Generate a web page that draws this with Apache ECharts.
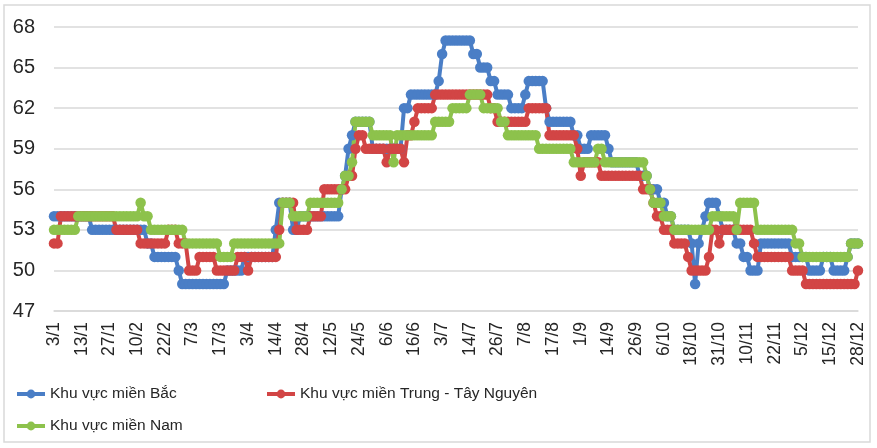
<!DOCTYPE html>
<html>
<head>
<meta charset="utf-8">
<script src="https://cdn.jsdelivr.net/npm/echarts@6/dist/echarts.min.js"></script>
<style>
html, body { margin: 0; padding: 0; background: #fff; }
#chart_div { width: 877px; height: 448px; }
</style>
</head>
<body>
<div id="chart_div"></div>
<script>
// nhãn trục hoành (mỗi nhãn cách nhau 8 điểm)
var tickLabels = ['3/1','13/1','27/1','10/2','22/2','7/3','17/3','3/4','14/4','28/4',
	'12/5','24/5','6/6','16/6','3/7','14/7','26/7','7/8','17/8','1/9',
	'14/9','26/9','6/10','18/10','31/10','10/11','22/11','5/12','15/12','28/12'];
var seriesNames = ['Khu vực miền Bắc', 'Khu vực miền Trung - Tây Nguyên', 'Khu vực miền Nam'];

var bac = [
	54,54,54,54,54,54,54,54,
	54,54,54,53,53,53,53,53,
	53,53,53,53,53,53,53,53,
	53,53,53,52,52,51,51,51,
	51,51,51,51,50,49,49,49,
	49,49,49,49,49,49,49,49,
	49,49,50,50,50,50,50,51,
	51,51,51,51,51,51,51,51,
	53,55,55,55,55,53,53,54,
	54,54,54,54,54,54,54,54,
	54,54,54,56,57,59,60,61,
	61,61,61,61,59,59,59,59,
	59,59,59,59,59,62,62,63,
	63,63,63,63,63,63,63,64,
	66,67,67,67,67,67,67,67,
	67,66,66,65,65,65,64,64,
	63,63,63,63,62,62,62,62,
	63,64,64,64,64,64,62,61,
	61,61,61,61,61,61,60,60,
	59,59,59,60,60,60,60,60,
	59,58,58,58,58,58,58,58,
	58,57,57,57,56,56,56,55,
	55,54,54,53,53,53,53,53,
	52,49,52,53,54,55,55,55,
	54,53,53,53,53,52,52,51,
	51,50,50,50,52,52,52,52,
	52,52,52,52,52,51,51,51,
	51,51,50,50,50,50,51,51,
	51,50,50,50,50,51,52,52,
	52
];
var trung = [
	52,52,54,54,54,54,54,54,
	54,54,54,54,54,54,54,54,
	54,54,53,53,53,53,53,53,
	53,52,52,52,52,52,52,52,
	52,53,53,53,52,52,52,50,
	50,50,51,51,51,51,51,50,
	50,50,50,50,50,51,51,51,
	50,51,51,51,51,51,51,51,
	51,53,55,55,55,55,53,53,
	53,53,54,54,54,54,56,56,
	56,56,56,56,56,57,57,59,
	60,60,59,59,59,59,59,59,
	58,59,59,59,59,58,60,60,
	61,62,62,62,62,62,63,63,
	63,63,63,63,63,63,63,63,
	63,63,63,63,63,63,62,62,
	61,61,61,61,61,61,61,61,
	61,62,62,62,62,62,62,60,
	60,60,60,60,60,60,60,59,
	57,58,58,58,58,58,57,57,
	57,57,57,57,57,57,57,57,
	57,57,56,56,56,55,54,54,
	53,53,53,52,52,52,52,51,
	50,50,50,50,50,51,53,53,
	52,53,53,53,53,53,53,53,
	53,53,52,51,51,51,51,51,
	51,51,51,51,51,50,50,50,
	50,49,49,49,49,49,49,49,
	49,49,49,49,49,49,49,49,
	50
];
var nam = [
	53,53,53,53,53,53,53,54,
	54,54,54,54,54,54,54,54,
	54,54,54,54,54,54,54,54,
	54,55,54,54,53,53,53,53,
	53,53,53,53,53,53,52,52,
	52,52,52,52,52,52,52,52,
	51,51,51,51,52,52,52,52,
	52,52,52,52,52,52,52,52,
	52,52,55,55,55,54,54,54,
	54,54,55,55,55,55,55,55,
	55,55,55,56,57,57,58,61,
	61,61,61,61,60,60,60,60,
	60,60,58,60,60,60,60,60,
	60,60,60,60,60,60,61,61,
	61,61,61,62,62,62,62,62,
	63,63,63,63,62,62,62,62,
	62,61,61,60,60,60,60,60,
	60,60,60,60,59,59,59,59,
	59,59,59,59,59,59,58,58,
	58,58,58,58,58,59,59,58,
	58,58,58,58,58,58,58,58,
	58,58,58,57,56,55,55,55,
	54,54,54,53,53,53,53,53,
	53,53,53,53,53,53,54,54,
	54,54,54,54,54,53,55,55,
	55,55,55,53,53,53,53,53,
	53,53,53,53,53,53,52,52,
	51,51,51,51,51,51,51,51,
	51,51,51,51,51,51,52,52,
	52
];

var colors = ['#4a7ec6', '#d24545', '#8dc24c'];
var gridColor = '#d9d9d9';
var textColor = '#262626';

// mỗi nhãn ứng với 1 điểm, 7 điểm giữa để trống
var categories = [];
for (var i = 0; i < bac.length; i++) {
	categories.push(i % 8 == 0 ? tickLabels[i / 8] : '');
}

function makeSeries(name, data, color) {
	return {
		name: name,
		type: 'line',
		data: data,
		symbol: 'circle',
		symbolSize: 10.5,
		showAllSymbol: true,
		color: color,
		lineStyle: { width: 4, color: color },
		itemStyle: { color: color },
		emphasis: { disabled: true }
	};
}

function makeLegend(name, left, top) {
	return {
		data: [name],
		left: left,
		top: top,
		padding: 0,
		itemWidth: 28,
		itemHeight: 11,
		lineStyle: { width: 4 },
		textStyle: { fontFamily: 'Liberation Sans', fontSize: 15.5, color: textColor }
	};
}

var chart = echarts.init(document.getElementById('chart_div'));
chart.setOption({
	animation: false,
	backgroundColor: '#fff',
	graphic: [{
		type: 'rect',
		shape: { x: 4, y: 5, width: 866, height: 437 },
		style: { fill: 'none', stroke: gridColor, lineWidth: 1.5 }
	}],
	legend: [
		makeLegend(seriesNames[0], 15, 386),
		makeLegend(seriesNames[1], 265, 386),
		makeLegend(seriesNames[2], 15, 418)
	],
	grid: { left: 54, right: 19, top: 27, bottom: 137, containLabel: false },
	xAxis: {
		type: 'category',
		data: categories,
		boundaryGap: false,
		axisLine: { lineStyle: { color: gridColor, width: 1.5 } },
		axisTick: { show: false },
		axisLabel: {
			interval: 7,
			rotate: 90,
			margin: 11,
			fontFamily: 'Liberation Sans',
			fontSize: 17.5,
			color: textColor
		}
	},
	yAxis: {
		type: 'value',
		min: 47,
		max: 68,
		interval: 3,
		axisLine: { show: false },
		axisTick: { show: false },
		splitLine: { lineStyle: { color: gridColor, width: 1.5 } },
		axisLabel: {
			margin: 19,
			fontFamily: 'Liberation Sans',
			fontSize: 20,
			color: textColor
		}
	},
	series: [
		makeSeries(seriesNames[0], bac, colors[0]),
		makeSeries(seriesNames[1], trung, colors[1]),
		makeSeries(seriesNames[2], nam, colors[2])
	]
});
</script>
</body>
</html>
